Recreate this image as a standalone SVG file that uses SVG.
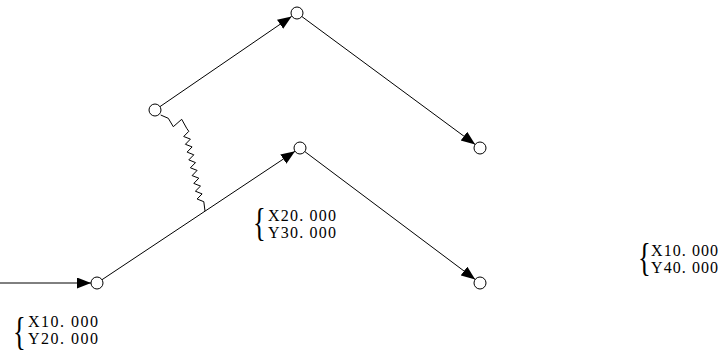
<svg xmlns="http://www.w3.org/2000/svg" width="722" height="354" viewBox="0 0 722 354">
<style>
.ln{stroke:#000;stroke-width:1;fill:none}
.nd{stroke:#000;stroke-width:1;fill:#fff}
.tx{font-family:"Liberation Serif","Times New Roman",serif;font-size:16px;fill:#000}
.br{font-family:"Liberation Serif","Times New Roman",serif;font-size:41px;fill:#000}
</style>
<defs>
<marker id="ah" markerUnits="userSpaceOnUse" markerWidth="15" markerHeight="12" refX="14" refY="5.5" orient="auto">
<path d="M0,0 L14,5.5 L0,11 z" fill="#000"/>
</marker>
</defs>
<g id="connectors">
<line class="ln" x1="0" y1="283" x2="91" y2="283" marker-end="url(#ah)"/>
<line class="ln" x1="102" y1="279.7" x2="295" y2="151.3" marker-end="url(#ah)"/>
<line class="ln" x1="304.8" y1="151.6" x2="475.2" y2="279.4" marker-end="url(#ah)"/>
<line class="ln" x1="160" y1="106.6" x2="291.6" y2="16.4" marker-end="url(#ah)"/>
<line class="ln" x1="301.8" y1="16.5" x2="475.2" y2="144.5" marker-end="url(#ah)"/>
<polyline class="ln" points="160.7,115 168.3,118.3 173.3,126.7 181.7,119.3 186.7,128.3 188.8,131.3 183.7,136.5 190.4,139.1 185.4,144.3 192.1,146.9 187.1,152.1 193.8,154.8 188.8,159.9 195.5,162.6 190.4,167.8 197.1,170.4 192.1,175.6 198.8,178.2 193.8,183.4 200.5,186.1 195.4,191.2 202.1,193.9 197.1,199 203.8,201.7 205,211"/>
</g>
<g id="n1"><circle class="nd" cx="97" cy="283" r="6"/></g>
<g id="n2"><circle class="nd" cx="300" cy="148" r="6"/></g>
<g id="n3"><circle class="nd" cx="480" cy="283" r="6"/></g>
<g id="n4"><circle class="nd" cx="155" cy="110" r="6"/></g>
<g id="n5"><circle class="nd" cx="297" cy="13" r="6"/></g>
<g id="n6"><circle class="nd" cx="480" cy="148" r="6"/></g>
<g id="label1">
<text class="br" transform="translate(13,345) scale(0.65,1)">{</text>
<text class="tx" x="28" y="327" textLength="70">X10. 000</text>
<text class="tx" x="28" y="344" textLength="70">Y20. 000</text>
</g>
<g id="label2">
<text class="br" transform="translate(253,236) scale(0.65,1)">{</text>
<text class="tx" x="268" y="221" textLength="68">X20. 000</text>
<text class="tx" x="268" y="238" textLength="68">Y30. 000</text>
</g>
<g id="label3">
<text class="br" transform="translate(638,271) scale(0.65,1)">{</text>
<text class="tx" x="651" y="256" textLength="67">X10. 000</text>
<text class="tx" x="651" y="273" textLength="67">Y40. 000</text>
</g>
</svg>
